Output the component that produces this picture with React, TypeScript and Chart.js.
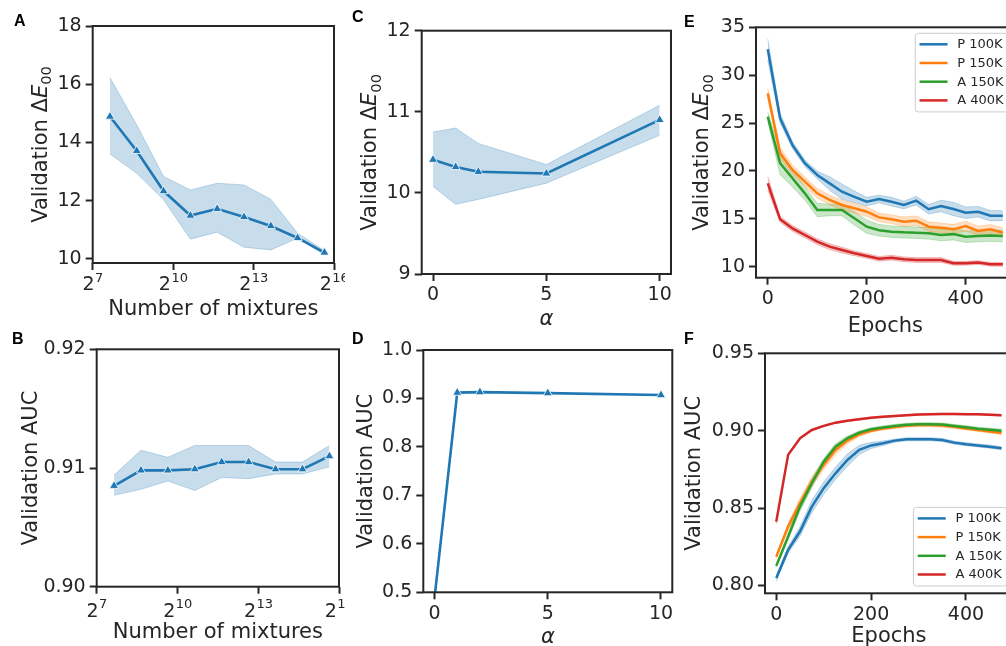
import React, { useEffect, useRef } from 'react';
import { Chart, registerables } from 'chart.js';

Chart.register(...registerables);

const FONT = "'DejaVu Sans', 'Noto Sans', sans-serif";
const LETTER_FONT = "bold 16px 'Liberation Sans', Arial, sans-serif";
const INK = '#262626';
const BLUE = '#1f77b4';
const ORANGE = '#ff7f0e';
const GREEN = '#2ca02c';
const RED = '#d62728';

// ---------- Panels A & B : number of mixtures ----------
const mixtureCounts = [200, 400, 800, 1600, 3200, 6400, 12800, 25600, 51200];
const mixtureTickExponents = [7, 10, 13, 16];
const deltaEByMixMean = [14.89, 13.71, 12.33, 11.49, 11.72, 11.44, 11.13, 10.72, 10.22];
const deltaEByMixUpper = [16.23, 14.6, 12.83, 12.37, 12.6, 12.54, 12.05, 10.88, 10.29];
const deltaEByMixLower = [13.6, 12.94, 12.03, 10.68, 10.92, 10.4, 10.31, 10.71, 10.14];
const aucByMixMean = [0.9085, 0.9098, 0.9098, 0.9099, 0.9105, 0.9105, 0.9099, 0.9099, 0.911];
const aucByMixUpper = [0.9094, 0.9115, 0.9109, 0.9119, 0.9119, 0.9119, 0.9105, 0.9105, 0.9119];
const aucByMixLower = [0.9077, 0.9082, 0.9089, 0.9081, 0.9092, 0.9091, 0.9095, 0.9095, 0.9101];
const deltaEMixTicks = [10, 12, 14, 16, 18];
const aucMixTicks = [0.9, 0.91, 0.92];

// ---------- Panels C & D : alpha ----------
const alphaValues = [0, 1, 2, 5, 10];
const deltaEByAlphaMean = [10.41, 10.32, 10.26, 10.24, 10.9];
const deltaEByAlphaUpper = [10.75, 10.8, 10.61, 10.35, 11.08];
const deltaEByAlphaLower = [10.08, 9.86, 9.92, 10.12, 10.71];
const aucByAlphaMean = [0.49, 0.912, 0.913, 0.911, 0.907];
const alphaTicks = [0, 5, 10];
const deltaEAlphaTicks = [9, 10, 11, 12];
const aucAlphaTicks = [0.5, 0.6, 0.7, 0.8, 0.9, 1.0];

// ---------- Panels E & F : epochs ----------
const epochs = [0, 25, 50, 75, 100, 125, 150, 175, 200, 225, 250, 275, 300, 325, 350, 375, 400, 425, 450, 475];
const seriesLabels = ['P 100K', 'P 150K', 'A 150K', 'A 400K'];
const p100kDeltaE = [32.7, 25.5, 22.7, 20.8, 19.58, 18.7, 17.83, 17.3, 16.79, 17.07, 16.79, 16.44, 16.9, 16.0, 16.34, 16.03, 15.64, 15.74, 15.33, 15.33];
const p150kDeltaE = [28.1, 21.84, 20.1, 18.88, 17.66, 16.97, 16.44, 16.1, 15.74, 15.15, 14.95, 14.7, 14.8, 14.18, 14.07, 13.9, 14.25, 13.73, 13.9, 13.55];
const a150kDeltaE = [25.67, 20.8, 19.23, 17.66, 15.92, 15.92, 15.92, 15.05, 14.18, 13.8, 13.66, 13.59, 13.55, 13.48, 13.31, 13.4, 13.13, 13.2, 13.25, 13.2];
const a400kDeltaE = [18.71, 14.95, 14.0, 13.31, 12.61, 12.09, 11.74, 11.4, 11.12, 10.82, 10.94, 10.77, 10.7, 10.7, 10.7, 10.36, 10.36, 10.43, 10.25, 10.25];
const p100kDeltaESpread = [1.1, 0.5, 0.35, 0.35, 0.4, 0.7, 0.8, 0.6, 0.45, 0.4, 0.45, 0.4, 0.45, 0.5, 0.6, 0.7, 0.6, 0.55, 0.55, 0.5];
const p150kDeltaESpread = [0.5, 0.6, 0.5, 0.5, 0.5, 0.5, 0.5, 0.5, 0.5, 0.45, 0.45, 0.5, 0.5, 0.5, 0.5, 0.5, 0.5, 0.5, 0.5, 0.5];
const a150kDeltaESpread = [0.5, 1.2, 0.9, 0.7, 0.7, 0.6, 0.6, 0.7, 0.7, 0.6, 0.6, 0.6, 0.6, 0.6, 0.6, 0.6, 0.6, 0.6, 0.6, 0.6];
const a400kDeltaESpread = [0.7, 0.3, 0.3, 0.3, 0.3, 0.3, 0.3, 0.25, 0.25, 0.25, 0.25, 0.25, 0.25, 0.25, 0.25, 0.2, 0.2, 0.2, 0.2, 0.2];

const p100kAuc = [0.8048, 0.823, 0.8349, 0.851, 0.8629, 0.8725, 0.8811, 0.8876, 0.8905, 0.8919, 0.8936, 0.8945, 0.8945, 0.8945, 0.894, 0.8923, 0.8913, 0.8905, 0.8897, 0.8887];
const p150kAuc = [0.8187, 0.8381, 0.8532, 0.8671, 0.8779, 0.8876, 0.8936, 0.8977, 0.9, 0.9014, 0.9024, 0.9033, 0.9037, 0.9037, 0.9033, 0.9025, 0.9015, 0.9005, 0.8995, 0.8985];
const a150kAuc = [0.8127, 0.8316, 0.851, 0.8661, 0.88, 0.8897, 0.8951, 0.8988, 0.9009, 0.9021, 0.9031, 0.9038, 0.9042, 0.9042, 0.904, 0.9031, 0.9022, 0.9013, 0.9007, 0.9];
const a400kAuc = [0.8413, 0.8844, 0.8951, 0.9005, 0.9031, 0.9052, 0.9065, 0.9074, 0.9084, 0.909, 0.9095, 0.91, 0.9105, 0.9107, 0.9108, 0.9108, 0.9107, 0.9106, 0.9103, 0.91];
const p100kAucSpread = [0.002, 0.002, 0.003, 0.004, 0.004, 0.004, 0.004, 0.003, 0.002, 0.0015, 0.001, 0.001, 0.001, 0.001, 0.001, 0.001, 0.001, 0.001, 0.001, 0.001];
const p150kAucSpread = [0.001, 0.002, 0.003, 0.003, 0.003, 0.003, 0.002, 0.0015, 0.001, 0.001, 0.001, 0.001, 0.001, 0.001, 0.001, 0.001, 0.001, 0.001, 0.001, 0.001];
const a150kAucSpread = [0.001, 0.002, 0.003, 0.003, 0.002, 0.002, 0.0015, 0.001, 0.001, 0.001, 0.001, 0.001, 0.001, 0.001, 0.001, 0.001, 0.001, 0.001, 0.001, 0.001];
const a400kAucSpread = [0.0015, 0.0008, 0.0006, 0.0005, 0.0005, 0.0005, 0.0005, 0.0005, 0.0005, 0.0005, 0.0005, 0.0005, 0.0005, 0.0005, 0.0005, 0.0005, 0.0005, 0.0005, 0.0005, 0.0005];
const epochTicks = [0, 200, 400];
const deltaEEpochTicks = [10, 15, 20, 25, 30, 35];
const aucEpochTicks = [0.8, 0.85, 0.9, 0.95];

// ---------- helpers ----------
function rgba(hex: string, a: number) {
  const n = parseInt(hex.slice(1), 16);
  return `rgba(${n >> 16},${(n >> 8) & 255},${n & 255},${a})`;
}
const pts = (xs: number[], ys: number[]) => xs.map((x, i) => ({ x, y: ys[i] }));

function bandSets(xs: number[], upper: number[], lower: number[], color: string) {
  const common = {
    pointRadius: 0,
    borderColor: rgba(color, 0.25),
    borderWidth: 1,
    backgroundColor: rgba(color, 0.25),
    order: 10,
  };
  return [
    { ...common, data: pts(xs, upper), fill: '+1' },
    { ...common, data: pts(xs, lower), fill: false },
  ];
}

function markerLine(xs: number[], ys: number[], color: string, extra: any = {}) {
  return {
    data: pts(xs, ys),
    borderColor: color,
    borderWidth: 2.6,
    backgroundColor: color,
    pointStyle: 'triangle',
    pointRadius: 5.2,
    pointBackgroundColor: color,
    pointBorderColor: '#ffffff',
    pointBorderWidth: 0.8,
    fill: false,
    order: 0,
    ...extra,
  };
}

const epochColors = [BLUE, ORANGE, GREEN, RED];

function epochSets(means: number[][], spreads: number[][]) {
  const bands: any[] = [];
  const lines: any[] = [];
  means.forEach((m, k) => {
    const up = m.map((v, i) => v + spreads[k][i]);
    const lo = m.map((v, i) => v - spreads[k][i]);
    bands.push(...bandSets(epochs, up, lo, epochColors[k]));
    lines.push({
      label: seriesLabels[k],
      legend: true,
      data: pts(epochs, m),
      borderColor: epochColors[k],
      backgroundColor: epochColors[k],
      borderWidth: 2.5,
      pointRadius: 0,
      fill: false,
      order: 3 - k,
    });
  });
  return [...bands, ...lines];
}

type Panel = {
  letter: string;
  letterPos: [number, number];
  canvas: { x: number; y: number; w: number; h: number };
  area: { l: number; t: number; r: number; b: number };
  xType: 'linear' | 'logarithmic';
  xMin: number;
  xMax: number;
  xTicks: number[];
  yMin: number;
  yMax: number;
  yTicks: number[];
  yDec: number;
  xTitle: string;
  xTitleItalic?: boolean;
  xTitleOff: number;
  yTitle: 'dE' | 'auc';
  yTitleOff: number;
  pow2BaseOff?: number;
  legend?: 'upper' | 'lower';
  datasets: any[];
};

const panels: Panel[] = [
  {
    letter: 'A', letterPos: [14, 26],
    canvas: { x: 0, y: 0, w: 345, h: 340 },
    area: { l: 92.7, t: 26, r: 334, b: 263 },
    xType: 'logarithmic', xMin: 2 ** 7, xMax: 2 ** 16,
    xTicks: mixtureTickExponents.map((e) => 2 ** e),
    yMin: 9.86, yMax: 18, yTicks: deltaEMixTicks, yDec: 0,
    xTitle: 'Number of mixtures', xTitleOff: 52, yTitle: 'dE', yTitleOff: 46, pow2BaseOff: 27,
    datasets: [
      ...bandSets(mixtureCounts, deltaEByMixUpper, deltaEByMixLower, BLUE),
      markerLine(mixtureCounts, deltaEByMixMean, BLUE),
    ],
  },
  {
    letter: 'B', letterPos: [12, 344],
    canvas: { x: 0, y: 320, w: 345, h: 326 },
    area: { l: 96.7, t: 349.3, r: 339, b: 586.7 },
    xType: 'logarithmic', xMin: 2 ** 7, xMax: 2 ** 16,
    xTicks: mixtureTickExponents.map((e) => 2 ** e),
    yMin: 0.9, yMax: 0.92, yTicks: aucMixTicks, yDec: 2,
    xTitle: 'Number of mixtures', xTitleOff: 51.3, yTitle: 'auc', yTitleOff: 60, pow2BaseOff: 30,
    datasets: [
      ...bandSets(mixtureCounts, aucByMixUpper, aucByMixLower, BLUE),
      markerLine(mixtureCounts, aucByMixMean, BLUE),
    ],
  },
  {
    letter: 'C', letterPos: [352, 22],
    canvas: { x: 340, y: 0, w: 345, h: 340 },
    area: { l: 421.7, t: 30.7, r: 671, b: 274 },
    xType: 'linear', xMin: -0.5, xMax: 10.5, xTicks: alphaTicks,
    yMin: 9, yMax: 12, yTicks: deltaEAlphaTicks, yDec: 0,
    xTitle: 'α', xTitleItalic: true, xTitleOff: 51, yTitle: 'dE', yTitleOff: 45.7,
    datasets: [
      ...bandSets(alphaValues, deltaEByAlphaUpper, deltaEByAlphaLower, BLUE),
      markerLine(alphaValues, deltaEByAlphaMean, BLUE),
    ],
  },
  {
    letter: 'D', letterPos: [352, 344],
    canvas: { x: 340, y: 320, w: 345, h: 326 },
    area: { l: 423.3, t: 350, r: 672.3, b: 592.3 },
    xType: 'linear', xMin: -0.5, xMax: 10.5, xTicks: alphaTicks,
    yMin: 0.5, yMax: 1.0, yTicks: aucAlphaTicks, yDec: 1,
    xTitle: 'α', xTitleItalic: true, xTitleOff: 50.7, yTitle: 'auc', yTitleOff: 51.6,
    datasets: [markerLine(alphaValues, aucByAlphaMean, BLUE, { clip: 0 })],
  },
  {
    letter: 'E', letterPos: [684, 27],
    canvas: { x: 680, y: 0, w: 340, h: 345 },
    area: { l: 756, t: 27.3, r: 1014.6, b: 277.7 },
    xType: 'linear', xMin: -23.75, xMax: 498.75, xTicks: epochTicks,
    yMin: 8.85, yMax: 35, yTicks: deltaEEpochTicks, yDec: 0,
    xTitle: 'Epochs', xTitleOff: 54, yTitle: 'dE', yTitleOff: 47.7, legend: 'upper',
    datasets: epochSets(
      [p100kDeltaE, p150kDeltaE, a150kDeltaE, a400kDeltaE],
      [p100kDeltaESpread, p150kDeltaESpread, a150kDeltaESpread, a400kDeltaESpread]
    ),
  },
  {
    letter: 'F', letterPos: [684, 344],
    canvas: { x: 680, y: 320, w: 340, h: 326 },
    area: { l: 765, t: 353.3, r: 1012.8, b: 593.3 },
    xType: 'linear', xMin: -23.75, xMax: 498.75, xTicks: epochTicks,
    yMin: 0.795, yMax: 0.95, yTicks: aucEpochTicks, yDec: 2,
    xTitle: 'Epochs', xTitleOff: 49, yTitle: 'auc', yTitleOff: 65, legend: 'lower',
    datasets: epochSets(
      [p100kAuc, p150kAuc, a150kAuc, a400kAuc],
      [p100kAucSpread, p150kAucSpread, a150kAucSpread, a400kAucSpread]
    ),
  },
];

function zeroPad(s: any) {
  s.paddingLeft = 0;
  s.paddingRight = 0;
  s.paddingTop = 0;
  s.paddingBottom = 0;
}

const gridOpts = {
  display: true,
  drawOnChartArea: false,
  drawTicks: true,
  tickLength: 7,
  tickWidth: 2,
  tickColor: INK,
};

function decorPlugin(p: Panel) {
  return {
    id: 'decor' + p.letter,
    afterDraw(chart: any) {
      const ctx: CanvasRenderingContext2D = chart.ctx;
      const a = chart.chartArea;
      ctx.save();
      // frame (all four spines)
      ctx.strokeStyle = INK;
      ctx.lineWidth = 2;
      ctx.strokeRect(a.left, a.top, a.right - a.left, a.bottom - a.top);

      ctx.fillStyle = INK;
      // power-of-two tick labels
      if (p.xType === 'logarithmic') {
        const s = chart.scales.x;
        ctx.textBaseline = 'alphabetic';
        ctx.textAlign = 'left';
        p.xTicks.forEach((v, i) => {
          const px = s.getPixelForValue(v);
          const exp = String(mixtureTickExponents[i]);
          ctx.font = `19px ${FONT}`;
          const wb = ctx.measureText('2').width;
          ctx.font = `13px ${FONT}`;
          const we = ctx.measureText(exp).width;
          const x0 = px - (wb + we) / 2;
          const yb = a.bottom + (p.pow2BaseOff || 28);
          ctx.font = `19px ${FONT}`;
          ctx.fillText('2', x0, yb);
          ctx.font = `13px ${FONT}`;
          ctx.fillText(exp, x0 + wb + 0.5, yb - 8.5);
        });
      }

      // x title
      ctx.font = `${p.xTitleItalic ? 'italic ' : ''}21px ${FONT}`;
      ctx.textAlign = 'center';
      ctx.textBaseline = 'alphabetic';
      ctx.fillText(p.xTitle, (a.left + a.right) / 2, a.bottom + p.xTitleOff);

      // y title (rotated, rich text)
      const parts =
        p.yTitle === 'dE'
          ? [
              { t: 'Validation Δ', f: `21px ${FONT}`, dy: 0 },
              { t: 'E', f: `italic 21px ${FONT}`, dy: 0 },
              { t: '00', f: `14.7px ${FONT}`, dy: 4.5 },
            ]
          : [{ t: 'Validation AUC', f: `21px ${FONT}`, dy: 0 }];
      let total = 0;
      const widths = parts.map((q) => {
        ctx.font = q.f;
        const w = ctx.measureText(q.t).width;
        total += w;
        return w;
      });
      ctx.save();
      ctx.translate(a.left - p.yTitleOff, (a.top + a.bottom) / 2);
      ctx.rotate(-Math.PI / 2);
      ctx.textAlign = 'left';
      let cx = -total / 2;
      parts.forEach((q, i) => {
        ctx.font = q.f;
        ctx.fillText(q.t, cx, q.dy);
        cx += widths[i];
      });
      ctx.restore();

      // panel letter
      ctx.font = LETTER_FONT;
      ctx.textAlign = 'left';
      ctx.textBaseline = 'alphabetic';
      ctx.fillStyle = '#000';
      ctx.fillText(p.letter, p.letterPos[0] - p.canvas.x, p.letterPos[1] - p.canvas.y);

      // legend
      if (p.legend) {
        const items = chart.data.datasets.filter((d: any) => d.legend);
        ctx.font = `13px ${FONT}`;
        const tw = Math.max(...items.map((d: any) => ctx.measureText(d.label).width));
        const rowGap = 18.7;
        const boxH = 11 + rowGap * (items.length - 1) + 11.5;
        const boxR = a.right - 6;
        const textX = boxR - 5 - tw;
        const lineX2 = textX - 9.7;
        const lineX1 = lineX2 - 28;
        const boxL = lineX1 - 4.3;
        const boxT = p.legend === 'upper' ? a.top + 6 : a.bottom - 7.3 - boxH;
        ctx.beginPath();
        (ctx as any).roundRect(boxL, boxT, boxR - boxL, boxH, 3);
        ctx.fillStyle = 'rgba(255,255,255,0.8)';
        ctx.fill();
        ctx.strokeStyle = '#cccccc';
        ctx.lineWidth = 1;
        ctx.stroke();
        items.forEach((d: any, i: number) => {
          const y = boxT + 11 + i * rowGap;
          ctx.strokeStyle = d.borderColor;
          ctx.lineWidth = 2.5;
          ctx.beginPath();
          ctx.moveTo(lineX1, y);
          ctx.lineTo(lineX2, y);
          ctx.stroke();
          ctx.fillStyle = INK;
          ctx.textAlign = 'left';
          ctx.textBaseline = 'middle';
          ctx.fillText(d.label, textX, y + 0.5);
        });
      }
      ctx.restore();
    },
  };
}

function buildConfig(p: Panel): any {
  return {
    type: 'line',
    data: { datasets: p.datasets },
    options: {
      responsive: false,
      animation: false,
      devicePixelRatio: 1,
      events: [],
      layout: {
        padding: {
          left: 0,
          top: p.area.t - p.canvas.y,
          right: p.canvas.x + p.canvas.w - p.area.r,
          bottom: 0,
        },
      },
      elements: { line: { tension: 0 } },
      plugins: {
        legend: { display: false },
        tooltip: { enabled: false },
        title: { display: false },
      },
      scales: {
        x: {
          type: p.xType,
          position: 'bottom',
          min: p.xMin,
          max: p.xMax,
          bounds: 'data',
          afterBuildTicks: (s: any) => {
            s.ticks = p.xTicks.map((v) => ({ value: v }));
          },
          afterFit: (s: any) => {
            s.height = p.canvas.y + p.canvas.h - p.area.b;
            zeroPad(s);
          },
          ticks: {
            display: p.xType !== 'logarithmic',
            autoSkip: false,
            maxRotation: 0,
            minRotation: 0,
            font: { family: FONT, size: 19 },
            color: INK,
            padding: 3,
            callback: (v: any) => String(v),
          },
          grid: gridOpts,
          border: { display: false },
        },
        y: {
          type: 'linear',
          position: 'left',
          min: p.yMin,
          max: p.yMax,
          bounds: 'data',
          afterBuildTicks: (s: any) => {
            s.ticks = p.yTicks.map((v) => ({ value: v }));
          },
          afterFit: (s: any) => {
            s.width = p.area.l - p.canvas.x;
            zeroPad(s);
          },
          ticks: {
            autoSkip: false,
            font: { family: FONT, size: 19 },
            color: INK,
            padding: 4,
            callback: (v: any) => Number(v).toFixed(p.yDec),
          },
          grid: gridOpts,
          border: { display: false },
        },
      },
    },
    plugins: [decorPlugin(p)],
  };
}

function PanelChart({ p }: { p: Panel }) {
  const ref = useRef<HTMLCanvasElement | null>(null);
  useEffect(() => {
    if (!ref.current) return;
    const chart = new Chart(ref.current, buildConfig(p));
    return () => chart.destroy();
  }, [p]);
  return (
    <canvas
      ref={ref}
      width={p.canvas.w}
      height={p.canvas.h}
      style={{
        position: 'absolute',
        left: p.canvas.x,
        top: p.canvas.y,
        width: p.canvas.w,
        height: p.canvas.h,
      }}
    />
  );
}

export default function App() {
  return (
    <div
      style={{
        position: 'fixed',
        left: 0,
        top: 0,
        width: 1006,
        height: 646,
        overflow: 'hidden',
        background: '#ffffff',
      }}
    >
      {panels.map((p) => (
        <PanelChart key={p.letter} p={p} />
      ))}
    </div>
  );
}
